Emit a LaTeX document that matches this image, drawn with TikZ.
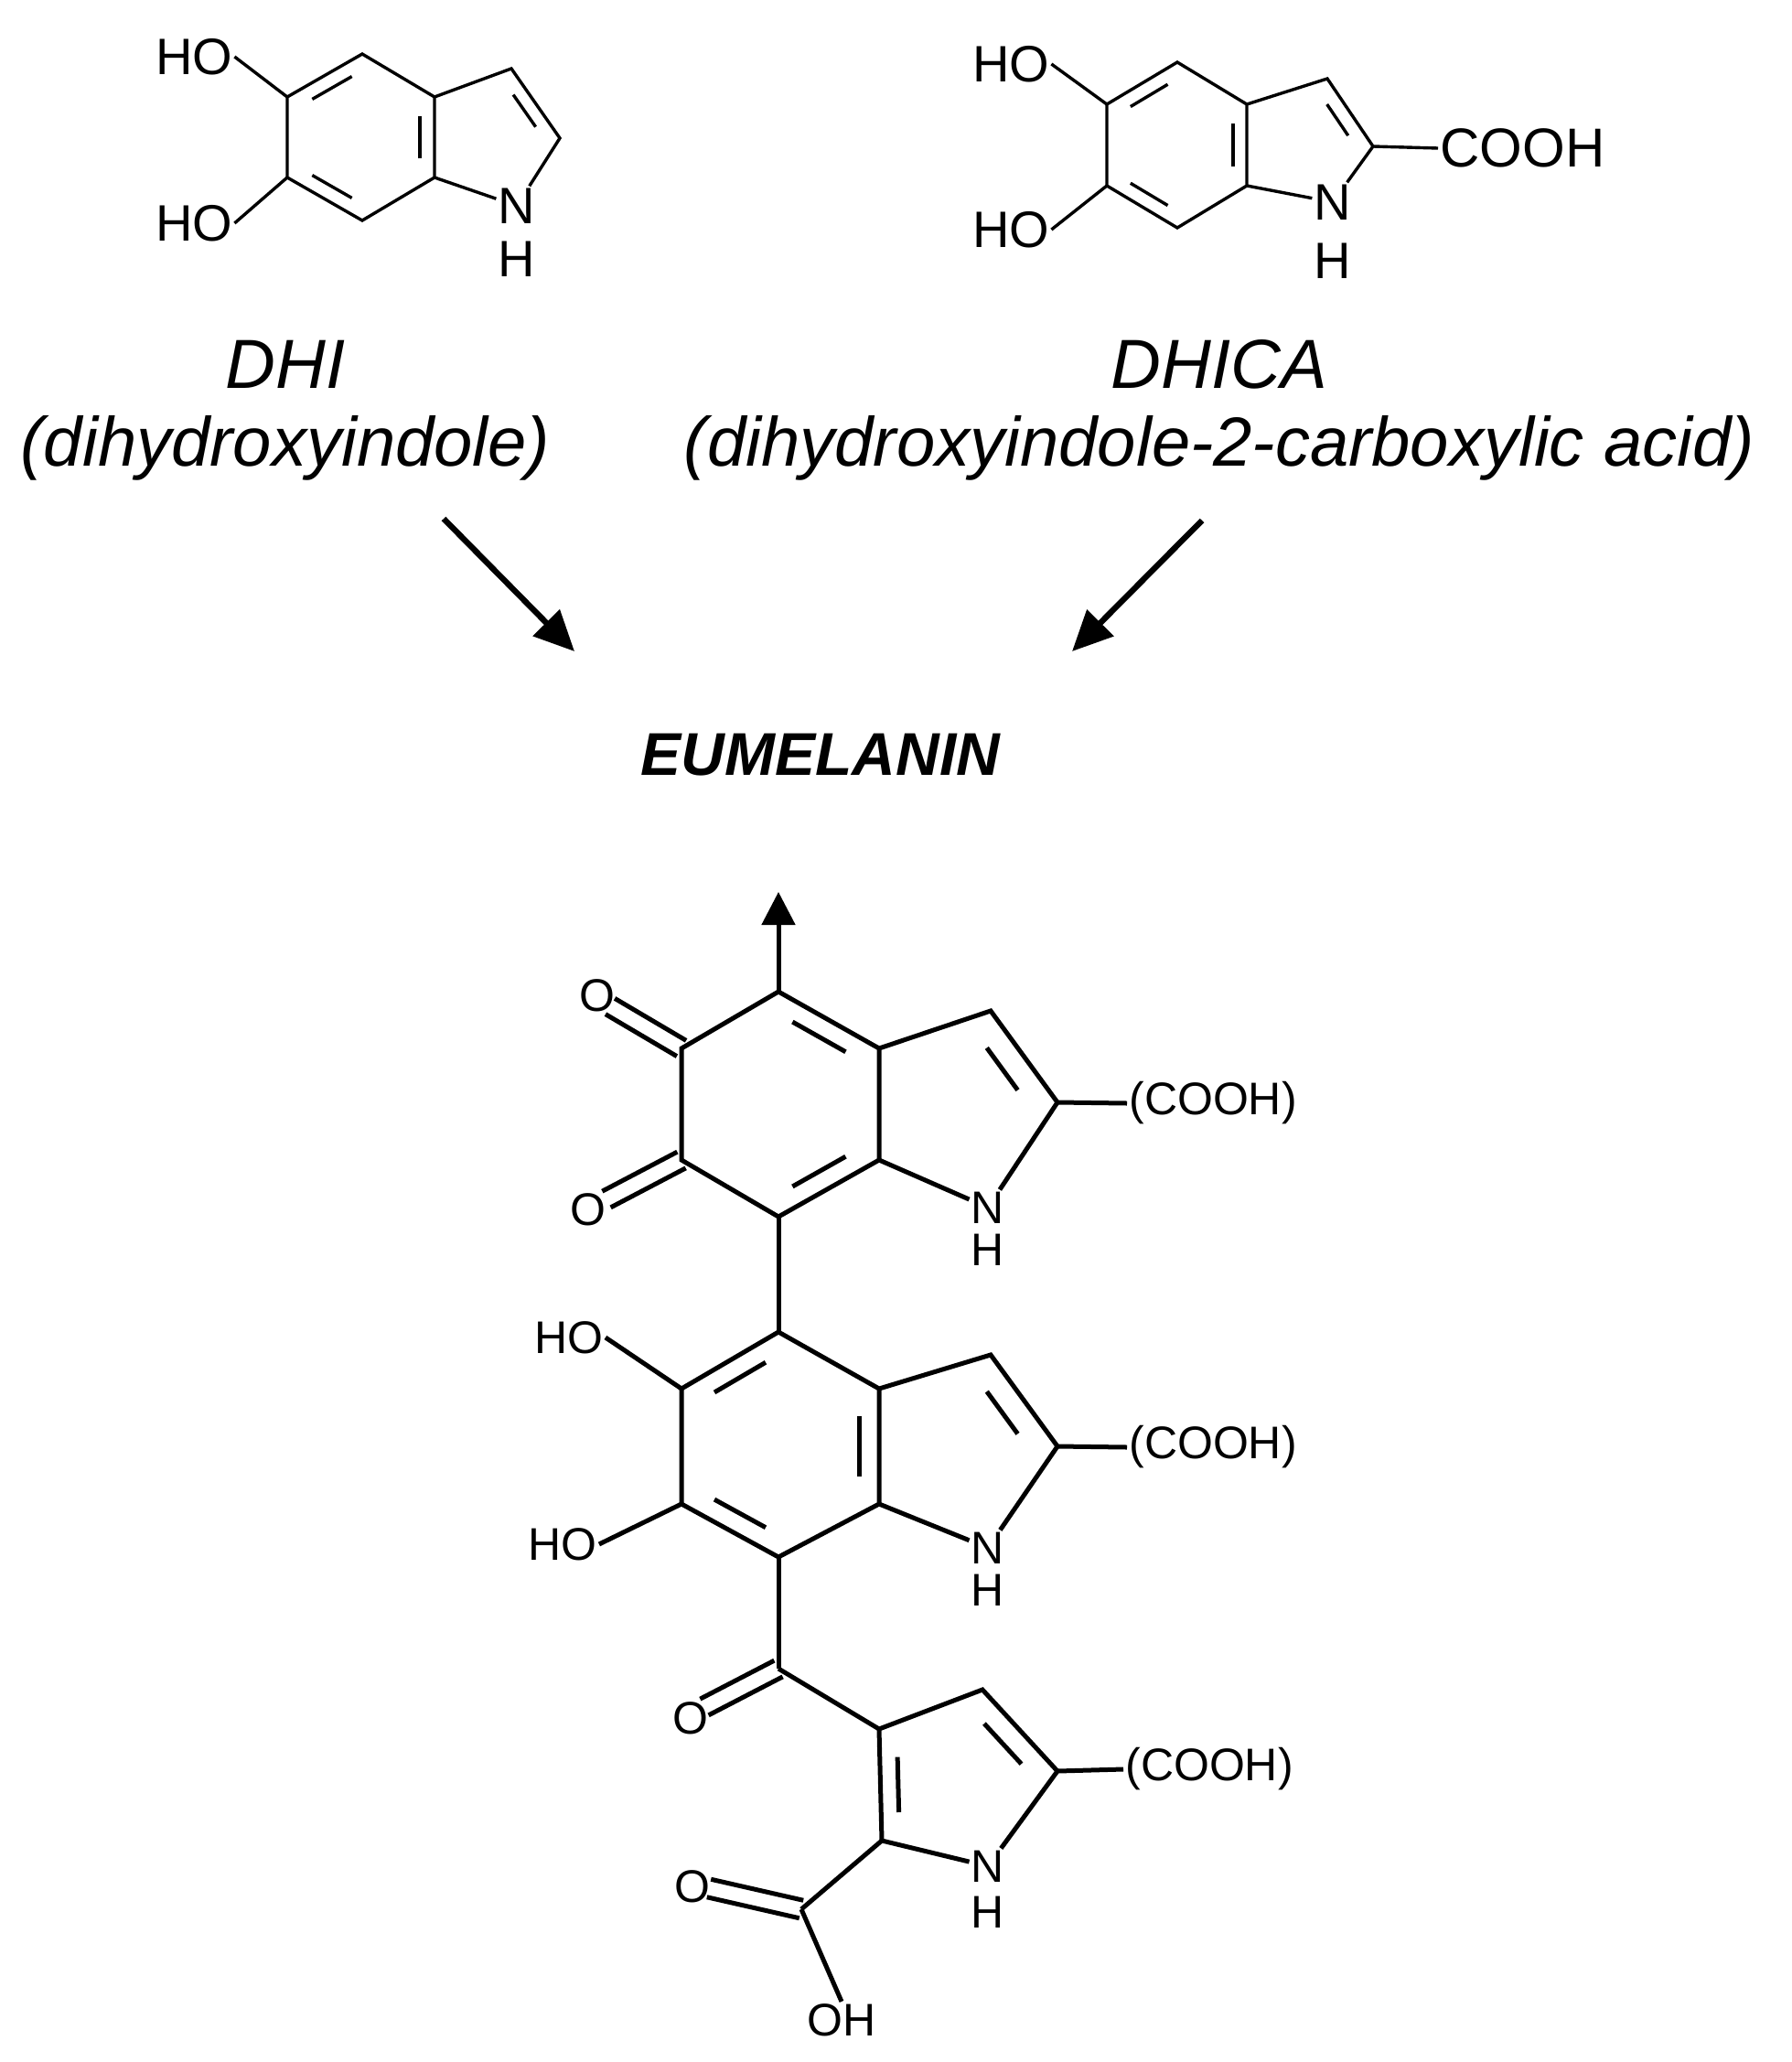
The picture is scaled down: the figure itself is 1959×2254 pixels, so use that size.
\documentclass[tikz,border=0pt]{standalone}
\usepackage{fontspec}
\setmainfont{Liberation Sans}
\usetikzlibrary{calc,arrows.meta}
\begin{document}
\begin{tikzpicture}[x=0.5pt,y=-0.5pt,
  thin bond/.style={line width=1.7pt},
  bond/.style={line width=2.5pt},
  atomA/.style={font=\fontsize{28}{28}\selectfont,inner sep=1pt},
  atomB/.style={font=\fontsize{25}{25}\selectfont,inner sep=1pt},
  molname/.style={font=\fontsize{38}{38}\selectfont\itshape},
  bigarrow/.style={line width=3.2pt,-{Triangle[length=22pt,width=20pt]}}]
\useasboundingbox (0,0) rectangle (1959,2254);
\newcommand{\inb}[4][0.2]{\draw[#4] ($($(#2)!0.17!(#3)$)!#1!(ctr)$) -- ($($(#3)!0.17!(#2)$)!#1!(ctr)$);}
\newcommand{\dbo}[3]{\draw[#3] ($(#1)!5pt!90:(#2)$) -- ($(#2)!5pt!-90:(#1)$); \draw[#3] ($(#1)!5pt!-90:(#2)$) -- ($(#2)!5pt!90:(#1)$);}
% ---------- DHI ----------
\coordinate (a1) at (396,59); \coordinate (a2) at (314,106); \coordinate (a3) at (314,194);
\coordinate (a4) at (396,241); \coordinate (a5) at (475,194); \coordinate (a6) at (475,106);
\coordinate (a7) at (559,75); \coordinate (a8) at (612,151);
\node[atomA] (aN) at (565,225) {N}; \node[atomA] (aH) at (565,283) {H};
\node[atomA] (aO1) at (212,62) {HO}; \node[atomA] (aO2) at (212,244) {HO};
\draw[thin bond] (a1)--(a2)--(a3)--(a4)--(a5)--(a6)--cycle (a6)--(a7)--(a8)--(aN)--(a5);
\draw[thin bond] (a2)--(aO1.east); \draw[thin bond] (a3)--(aO2.east);
\coordinate (ctr) at (395,150);
\inb{a1}{a2}{thin bond}\inb{a3}{a4}{thin bond}\inb{a5}{a6}{thin bond}
\coordinate (ctr) at (545,140);
\inb[0.3]{a7}{a8}{thin bond}
% ---------- DHICA ----------
\coordinate (b1) at (1287,68); \coordinate (b2) at (1210,114); \coordinate (b3) at (1210,203);
\coordinate (b4) at (1287,249); \coordinate (b5) at (1363,203); \coordinate (b6) at (1363,114);
\coordinate (b7) at (1451,86); \coordinate (b8) at (1501,160);
\node[atomA] (bN) at (1457,221) {N}; \node[atomA] (bH) at (1457,285) {H};
\node[atomA] (bO1) at (1105,70) {HO}; \node[atomA] (bO2) at (1105,251) {HO};
\node[atomA,anchor=west,font=\fontsize{30}{30}\selectfont] (bC) at (1572,162) {COOH};
\draw[thin bond] (b1)--(b2)--(b3)--(b4)--(b5)--(b6)--cycle (b6)--(b7)--(b8)--(bN)--(b5);
\draw[thin bond] (b2)--(bO1.east); \draw[thin bond] (b3)--(bO2.east); \draw[thin bond] (b8)--(bC.west);
\coordinate (ctr) at (1287,158);
\inb{b1}{b2}{thin bond}\inb{b3}{b4}{thin bond}\inb{b5}{b6}{thin bond}
\coordinate (ctr) at (1430,150);
\inb[0.3]{b7}{b8}{thin bond}
% ---------- names ----------
\node[molname] (dhi) at (312,398) {DHI};
\node[molname] (dhil) at (312,490) {(dihydroxyindole)};
\node[molname] (dhica) at (1333,398) {DHICA};
\node[molname] (dhical) at (1333,490) {(dihydroxyindole-2-carboxylic acid)};
\node[font=\fontsize{33}{33}\selectfont\bfseries\itshape] (eu) at (897,825) {EUMELANIN};
\coordinate (ar1s) at (485,567); \coordinate (ar1e) at (628,712);
\coordinate (ar2s) at (1314,569); \coordinate (ar2e) at (1172,712);
\draw[bigarrow] (ar1s)--(ar1e); \draw[bigarrow] (ar2s)--(ar2e);
% ---------- bottom oligomer ----------
\coordinate (c4) at (851,1084); \coordinate (c5) at (745,1146); \coordinate (c6) at (745,1268);
\coordinate (c7) at (851,1330); \coordinate (c7a) at (961,1268); \coordinate (c3a) at (961,1146);
\coordinate (c3) at (1083,1105); \coordinate (c2) at (1156,1205);
\node[atomB] (cN) at (1080,1320) {N}; \node[atomB] (cH) at (1080,1366) {H};
\node[atomB,anchor=west] (cC) at (1232,1206) {(COOH)};
\coordinate (cO1b) at (667,1100); \node[atomB] (cO1) at (653,1088) {O};
\coordinate (cO2b) at (663,1311); \node[atomB] (cO2) at (643,1322) {O};
\coordinate (tip) at (851,975);
\draw[bond,-{Triangle[length=18pt,width=18pt]}] (c4)--(tip);
\draw[bond] (c4)--(c5)--(c6)--(c7)--(c7a)--(c3a)--cycle (c3a)--(c3)--(c2)--(cN)--(c7a);
\draw[bond] (c2)--(cC.west);
\dbo{c5}{cO1b}{bond}\dbo{c6}{cO2b}{bond}
\coordinate (ctr) at (853,1207);
\inb{c4}{c3a}{bond}\inb{c7}{c7a}{bond}
\coordinate (ctr) at (1040,1200);
\inb[0.3]{c3}{c2}{bond}
% middle unit
\coordinate (d4) at (851,1456); \coordinate (d5) at (745,1518); \coordinate (d6) at (745,1644);
\coordinate (d7) at (851,1702); \coordinate (d7a) at (961,1644); \coordinate (d3a) at (961,1518);
\coordinate (d3) at (1083,1481); \coordinate (d2) at (1156,1581);
\node[atomB] (dN) at (1080,1692) {N}; \node[atomB] (dH) at (1080,1738) {H};
\node[atomB,anchor=west] (dC) at (1232,1582) {(COOH)};
\node[atomB] (dO1) at (622,1462) {HO}; \node[atomB] (dO2) at (615,1688) {HO};
\draw[bond] (c7)--(d4);
\draw[bond] (d4)--(d5)--(d6)--(d7)--(d7a)--(d3a)--cycle (d3a)--(d3)--(d2)--(dN)--(d7a);
\draw[bond] (d2)--(dC.west); \draw[bond] (d5)--(dO1.east); \draw[bond] (d6)--(dO2.east);
\coordinate (ctr) at (853,1580);
\inb{d4}{d5}{bond}\inb{d6}{d7}{bond}\inb{d3a}{d7a}{bond}
\coordinate (ctr) at (1040,1575);
\inb[0.3]{d3}{d2}{bond}
% carbonyl
\coordinate (e0) at (851,1824); \coordinate (eOb) at (770,1866); \node[atomB] (eO) at (755,1878) {O};
\draw[bond] (d7)--(e0); \dbo{e0}{eOb}{bond}
% bottom pyrrole
\coordinate (f3) at (961,1890); \coordinate (f4) at (1074,1847); \coordinate (f5) at (1156,1936);
\coordinate (f2) at (964,2012);
\node[atomB] (fN) at (1080,2040) {N}; \node[atomB] (fH) at (1080,2090) {H};
\node[atomB,anchor=west] (fC) at (1228,1934) {(COOH)};
\draw[bond] (e0)--(f3);
\draw[bond] (f2)--(f3)--(f4)--(f5)--(fN);
\draw[bond] (fN)--(f2);
\draw[bond] (f5)--(fC.west);
\coordinate (ctr) at (1040,1950);
\inb[0.25]{f4}{f5}{bond}\inb[0.25]{f3}{f2}{bond}
% carboxyl
\coordinate (g0) at (876,2087); \coordinate (gOb) at (775,2064); \node[atomB] (gO) at (757,2062) {O};
\node[atomB] (gOH) at (920,2208) {OH};
\draw[bond] (f2)--(g0); \dbo{g0}{gOb}{bond}
\draw[bond] (g0)--(gOH.north);
\end{tikzpicture}
\end{document}
